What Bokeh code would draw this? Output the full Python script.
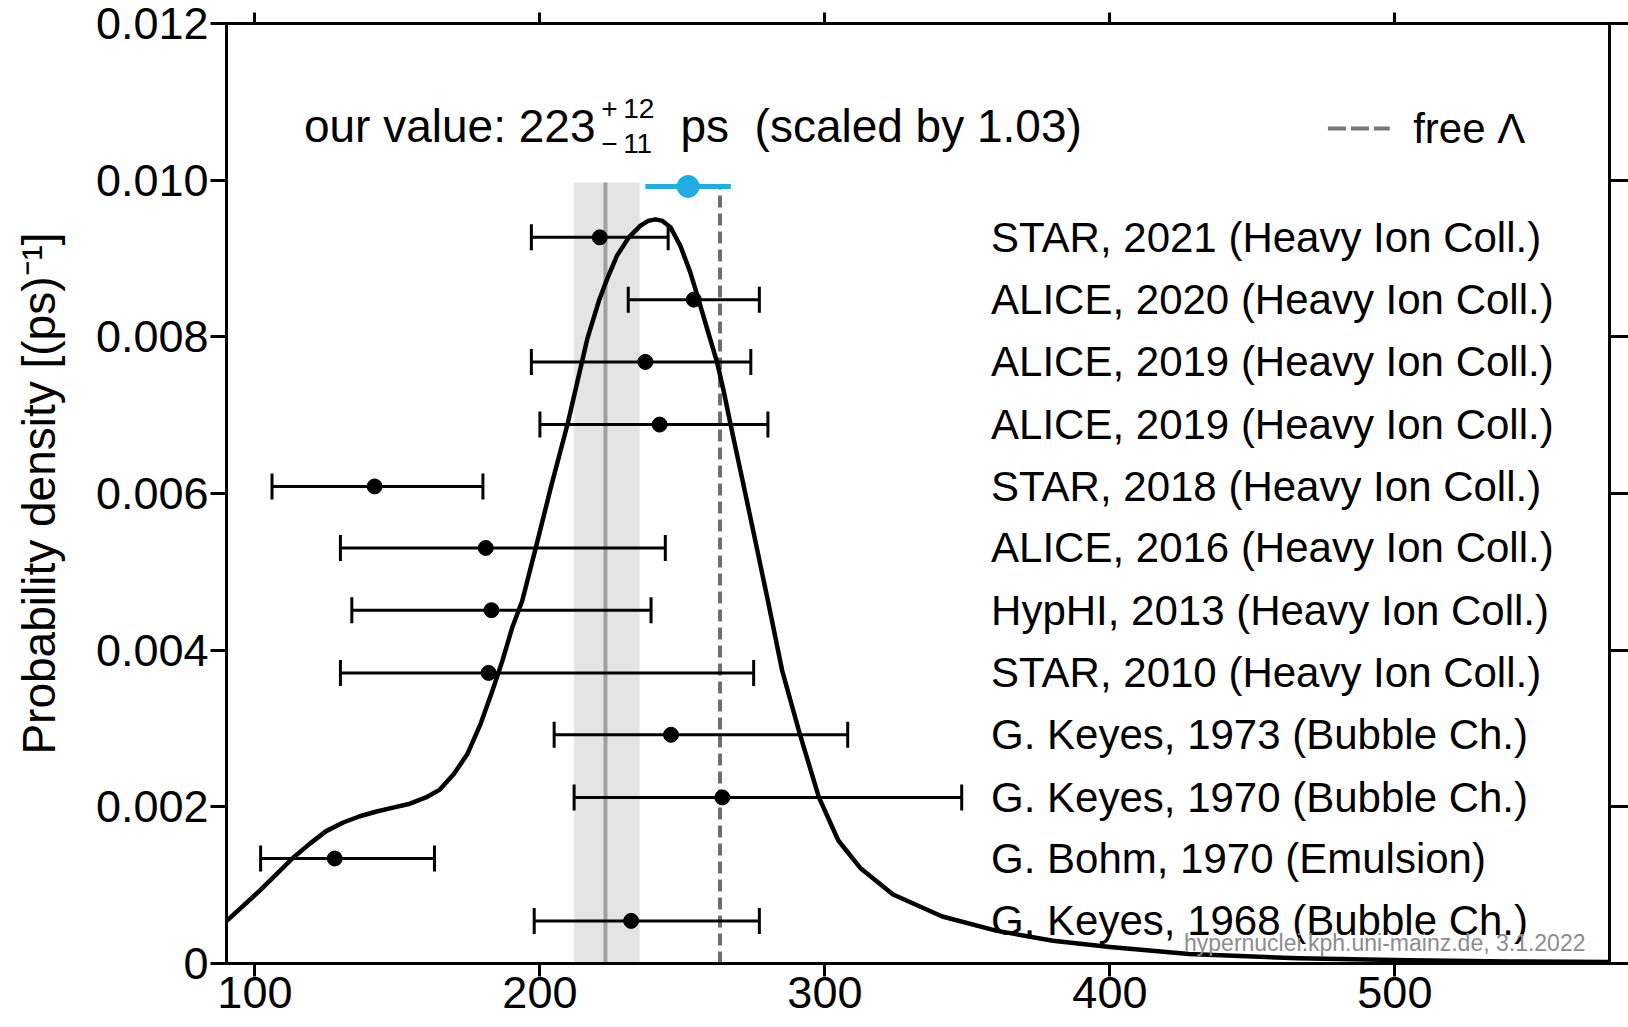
from bokeh.plotting import figure
from bokeh.models import Range1d, LinearAxis, FixedTicker, ColumnDataSource
from bokeh.core.properties import value
from bokeh.embed import file_html
from bokeh.resources import INLINE

FONT = "Liberation Sans"

# Hypertriton lifetime measurements (ps): central value and error-bar ends
labels = [
    "STAR, 2021 (Heavy Ion Coll.)",
    "ALICE, 2020 (Heavy Ion Coll.)",
    "ALICE, 2019 (Heavy Ion Coll.)",
    "ALICE, 2019 (Heavy Ion Coll.)",
    "STAR, 2018 (Heavy Ion Coll.)",
    "ALICE, 2016 (Heavy Ion Coll.)",
    "HypHI, 2013 (Heavy Ion Coll.)",
    "STAR, 2010 (Heavy Ion Coll.)",
    "G. Keyes, 1973 (Bubble Ch.)",
    "G. Keyes, 1970 (Bubble Ch.)",
    "G. Bohm, 1970 (Emulsion)",
    "G. Keyes, 1968 (Bubble Ch.)",
]
tau = [221, 254, 237, 242, 142, 181, 183, 182, 246, 264, 128, 232]
tau_lo = [197, 231, 197, 200, 106, 130, 134, 130, 205, 212, 102, 198]
tau_hi = [245, 277, 274, 280, 180, 244, 239, 275, 308, 348, 163, 277]
row_y = [0.00927, 0.008475, 0.00768, 0.00688, 0.00609, 0.005305,
         0.00451, 0.00371, 0.00292, 0.00212, 0.00134, 0.000544]

# combined estimate 223 (+12 / -11) ps
avg_tau, avg_lo, avg_hi = 223, 212, 235
band_top = 0.00997

# highlighted point
blue_tau, blue_lo, blue_hi, blue_y = 252, 237, 267, 0.00992

# free Lambda lifetime (ps)
free_lambda = 263.2

# summed probability density
curve_x = [90, 101.7, 107.6, 113.4, 119.3, 125, 131, 136.8, 142.7, 148.5,
           154.4, 160, 164.9, 169.8, 174.5, 179.2, 183.3, 186.8, 190.3,
           193.8, 198.5, 204, 209.8, 213.1, 216.6, 220.7, 223.6, 227.1,
           231.2, 235.3, 238, 240.6, 243, 245.8, 249.3, 252.8, 255.8, 258.7,
           262.2, 264.6, 266.9, 271.5, 276.2, 280, 285, 291.2, 297.9, 304.7,
           312.4, 323.9, 341.2, 360, 380, 400, 427.7, 466, 505, 540, 576]
curve_y = [0.00054, 0.00093, 0.00114, 0.00135, 0.00153, 0.00169, 0.0018,
           0.00188, 0.00194, 0.00199, 0.00204, 0.00212, 0.00222, 0.00242,
           0.00267, 0.00306, 0.00348, 0.00386, 0.00429, 0.00463, 0.0053,
           0.0061, 0.0069, 0.00742, 0.00797, 0.00846, 0.00874, 0.00904,
           0.00927, 0.00942, 0.00948, 0.0095, 0.00948, 0.0094, 0.00916,
           0.00882, 0.00846, 0.0081, 0.00767, 0.00729, 0.00688, 0.0061,
           0.00529, 0.00463, 0.00374, 0.00293, 0.00212, 0.00157, 0.00122,
           0.00088, 0.0006, 0.00042, 0.00029, 0.00021, 0.00012, 0.000066,
           0.00004, 0.000027, 0.00002]

x_ticks = [100, 200, 300, 400, 500]
y_ticks = [0, 0.002, 0.004, 0.006, 0.008, 0.010, 0.012]
y_tick_labels = ["0", "0.002", "0.004", "0.006", "0.008", "0.010", "0.012"]

p = figure(width=1628, height=1027, output_backend="svg", toolbar_location=None,
           x_range=Range1d(90.03, 575.3), y_range=Range1d(0, 0.012),
           min_border_left=226, min_border_right=19, min_border_top=23,
           min_border_bottom=64)
p.grid.visible = False
p.background_fill_color = "white"
p.border_fill_color = "white"
p.outline_line_color = "black"
p.outline_line_width = 3
p.outline_line_alpha = 1


def style_axis(ax, tick_out, show_labels=True, standoff=2):
    ax.axis_line_color = "black"
    ax.axis_line_width = 3
    ax.major_tick_line_color = "black"
    ax.major_tick_line_width = 3
    ax.major_tick_out = tick_out
    ax.major_tick_in = 0
    ax.minor_tick_line_color = None
    ax.major_label_text_font = FONT
    ax.major_label_standoff = standoff
    if show_labels:
        ax.major_label_text_font_size = "45px"
        ax.major_label_text_color = "black"
    else:
        ax.major_label_text_font_size = "0px"
        ax.major_label_text_color = None
        ax.major_label_standoff = 0


xa = p.xaxis[0]
xa.ticker = FixedTicker(ticks=x_ticks)
style_axis(xa, 13, True, 0)

ya = p.yaxis[0]
ya.ticker = FixedTicker(ticks=y_ticks)
ya.major_label_overrides = {t: s for t, s in zip(y_ticks, y_tick_labels)}
style_axis(ya, 16, True, 2)
ya.axis_label = "Probability density [(ps)\u207b\u00b9]"
ya.axis_label_text_font = FONT
ya.axis_label_text_font_size = "46px"
ya.axis_label_text_font_style = "normal"
ya.axis_label_text_color = "black"
ya.axis_label_standoff = 28

top_axis = LinearAxis(ticker=FixedTicker(ticks=x_ticks))
style_axis(top_axis, 11, False)
p.add_layout(top_axis, "above")

right_axis = LinearAxis(ticker=FixedTicker(ticks=y_ticks))
style_axis(right_axis, 19, False)
p.add_layout(right_axis, "right")

# combined-value band and its centre line
p.quad(left=[avg_lo], right=[avg_hi], bottom=[0], top=[band_top],
       fill_color="#e4e4e4", line_color=None)
p.segment(x0=[avg_tau], y0=[0], x1=[avg_tau], y1=[band_top],
          line_color="#a0a0a0", line_width=4)

# free Lambda reference line
p.segment(x0=[free_lambda], y0=[0], x1=[free_lambda], y1=[0.00995],
          line_color="#6e6e6e", line_width=4, line_dash="12 6")

# probability density
p.line(curve_x, curve_y, line_color="black", line_width=4.5, line_join="round")

# measurements with error bars
src = ColumnDataSource(dict(tau=tau, lo=tau_lo, hi=tau_hi, y=row_y, label=labels))
p.segment(x0="lo", y0="y", x1="hi", y1="y", source=src,
          line_color="black", line_width=3)
for end in ("lo", "hi"):
    p.scatter(end, "y", source=src, marker="dash", angle=1.5708, size=26,
              line_color="black", line_width=3)
p.scatter("tau", "y", source=src, size=15, fill_color="black", line_color="black")

p.text(x=358.3, y="y", text="label", source=src, text_font=value(FONT),
       text_font_size="42px", text_baseline="middle", text_align="left",
       text_color="black")

# highlighted value
p.segment(x0=[blue_lo], y0=[blue_y], x1=[blue_hi], y1=[blue_y],
          line_color="#1eaee4", line_width=5)
p.scatter([blue_tau], [blue_y], size=22, fill_color="#1eaee4", line_color="#1eaee4")


def add_text(x, y, text, size, color="black"):
    p.text(x=[x], y=[y], text=[text], text_font=value(FONT), text_font_size=size,
           text_color=color, text_baseline="middle", text_align="left")


# headline with asymmetric errors
add_text(117.2, 0.01069, "our value: 223", "46px")
add_text(221.5, 0.010915, "+", "28px")
add_text(229.2, 0.010915, "12", "28px")
add_text(221.5, 0.010468, "\u2212", "28px")
add_text(229.2, 0.010468, "11", "28px")
add_text(249.3, 0.01069, "ps\u00a0\u00a0(scaled by 1.03)", "46px")

# legend entry for the free Lambda line
p.segment(x0=[476.5], y0=[0.01066], x1=[498.2], y1=[0.01066],
          line_color="#777777", line_width=4, line_dash="18 5")
add_text(506.4, 0.010663, "free \u039b", "42px")

# source note
add_text(426.0, 0.000268, "hypernuclei.kph.uni-mainz.de, 3.1.2022", "23px", "#8c8c8c")

open("out.html", "w").write(file_html(p, INLINE))
